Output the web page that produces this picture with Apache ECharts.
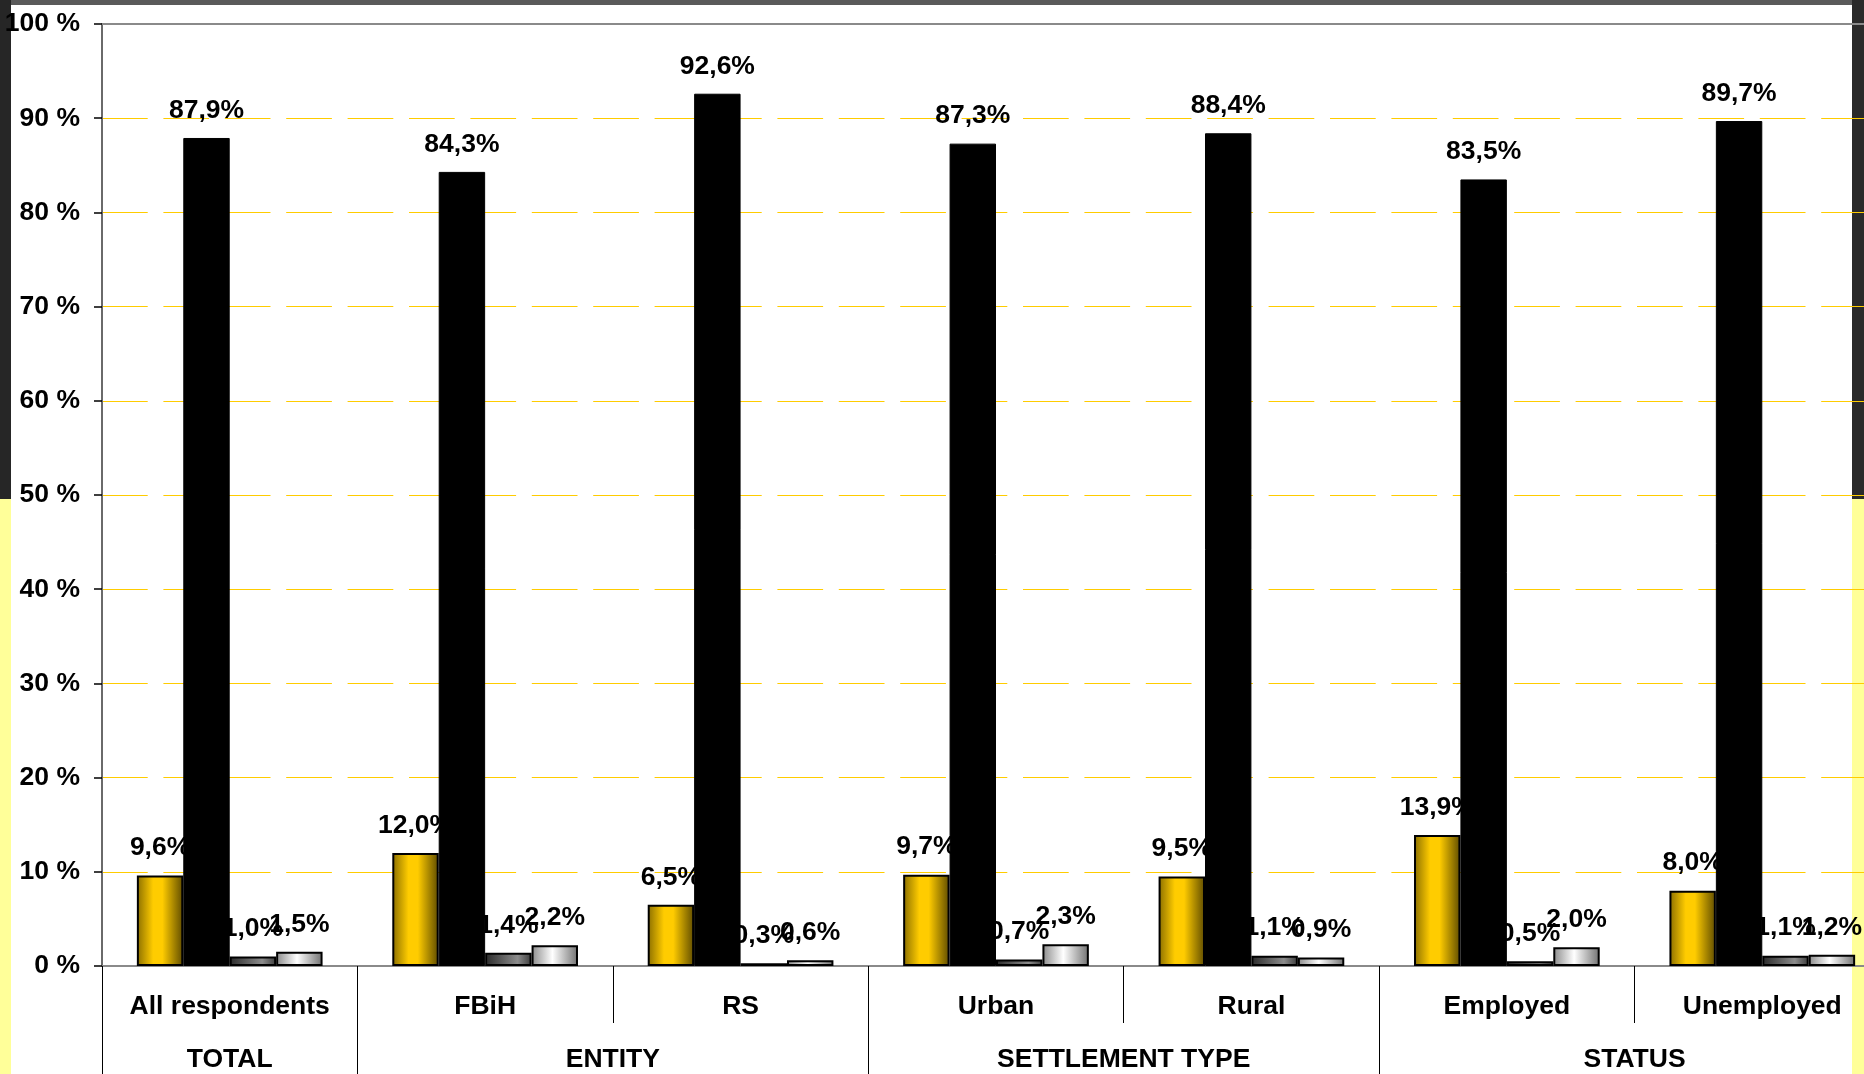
<!DOCTYPE html>
<html>
<head>
<meta charset="utf-8">
<script src="https://cdn.jsdelivr.net/npm/echarts@6/dist/echarts.min.js"></script>
<style>
html,body{margin:0;padding:0;background:#ffffff;}
#chart{width:1864px;height:1074px;}
</style>
</head>
<body>
<div id="chart"></div>
<script>
// ---- data ----
const categories = ['All respondents', 'FBiH', 'RS', 'Urban', 'Rural', 'Employed', 'Unemployed'];
const groupNames = ['TOTAL', 'ENTITY', 'SETTLEMENT TYPE', 'STATUS'];
const groupSpans = [1, 2, 2, 2];
const seriesA = [9.6, 12.0, 6.5, 9.7, 9.5, 13.9, 8.0];      // gold
const seriesB = [87.9, 84.3, 92.6, 87.3, 88.4, 83.5, 89.7]; // black
const seriesC = [1.0, 1.4, 0.3, 0.7, 1.1, 0.5, 1.1];        // dark grey
const seriesD = [1.5, 2.2, 0.6, 2.3, 0.9, 2.0, 1.2];        // light grey
const yMin = 0, yMax = 100, yStep = 10;

// derived group positions
const groupStarts = [];
const groupCenterMap = {};
let acc = 0;
groupSpans.forEach((s, i) => {
  groupStarts.push(acc);
  groupCenterMap[(acc + s / 2).toFixed(1)] = groupNames[i];
  acc += s;
});

const FONT = 'Liberation Sans, Arial, sans-serif';
const FS = 26.5;
const fmtPct = v => v.toFixed(1).replace('.', ',') + '%';

function hGrad(stops) {
  return new echarts.graphic.LinearGradient(0, 0, 1, 0,
    stops.map(s => ({offset: s[0], color: s[1]})));
}

const labelStyle = {
  show: true, position: 'top', distance: 14,
  color: '#000', fontFamily: FONT, fontWeight: 'bold', fontSize: FS,
  formatter: p => fmtPct(p.value)
};

const chart = echarts.init(document.getElementById('chart'), null, {renderer: 'canvas'});
chart.setOption({
  animation: false,
  backgroundColor: '#ffffff',
  graphic: [
    {type: 'rect', z: -100, silent: true, shape: {x: 0, y: 0, width: 11, height: 499}, style: {fill: '#262626'}},
    {type: 'rect', z: -100, silent: true, shape: {x: 0, y: 499, width: 11, height: 575}, style: {fill: '#ffff99'}},
    {type: 'rect', z: -100, silent: true, shape: {x: 1852, y: 0, width: 12, height: 499}, style: {fill: '#2a2a2a'}},
    {type: 'rect', z: -100, silent: true, shape: {x: 1852, y: 499, width: 12, height: 575}, style: {fill: '#ffff99'}},
    {type: 'rect', z: -100, silent: true, shape: {x: 11, y: 0, width: 1841, height: 5}, style: {fill: '#5a5a5a'}}
  ],
  grid: {left: 102, width: 1788, top: 24, bottom: 108, containLabel: false, outerBoundsMode: 'none'},
  xAxis: [
    {
      type: 'category', data: categories, position: 'bottom',
      axisLine: {show: true, onZero: false, lineStyle: {color: '#8a8a8a', width: 2}},
      axisTick: {show: true, interval: 0, length: 57, lineStyle: {color: '#000', width: 1}},
      axisLabel: {interval: 0, margin: 27, color: '#000', fontFamily: FONT, fontWeight: 'bold', fontSize: FS},
      splitLine: {show: false}
    },
    {
      type: 'category', data: categories, position: 'bottom',
      axisLine: {show: false, onZero: false},
      axisTick: {show: true, length: 110, interval: (idx) => groupStarts.indexOf(idx) >= 0,
        lineStyle: {color: '#000', width: 1}},
      axisLabel: {show: false},
      splitLine: {show: false}
    },
    {
      type: 'value', position: 'bottom', min: 0, max: categories.length, interval: 0.5,
      axisLine: {show: false, onZero: false},
      axisTick: {show: false},
      splitLine: {show: false},
      axisLabel: {
        margin: 80, color: '#000', fontFamily: FONT, fontWeight: 'bold', fontSize: FS,
        showMinLabel: true, showMaxLabel: true,
        formatter: v => groupCenterMap[Number(v).toFixed(1)] || ''
      }
    },
    {
      type: 'category', data: categories, position: 'top',
      axisLine: {show: true, onZero: false, lineStyle: {color: '#8a8a8a', width: 2}},
      axisTick: {show: false}, axisLabel: {show: false}, splitLine: {show: false}
    }
  ],
  yAxis: {
    type: 'value', min: yMin, max: yMax, interval: yStep,
    axisLine: {show: true, onZero: false, lineStyle: {color: '#6a6a6a', width: 2}},
    axisTick: {show: true, length: 8, lineStyle: {color: '#000', width: 1.5}},
    axisLabel: {margin: 22, color: '#000', fontFamily: FONT, fontWeight: 'bold', fontSize: FS,
      formatter: v => v + ' %'},
    splitLine: {show: true, lineStyle: {color: '#ffcc00', width: 1.2, type: [45.7, 15.7]}}
  },
  series: [
    {
      name: 'A', type: 'bar', data: seriesA, xAxisIndex: 0, yAxisIndex: 0, z: 2,
      barGap: '0%', barCategoryGap: '27.3%',
      itemStyle: {color: hGrad([[0, '#8a6e00'], [0.35, '#ffcc00'], [0.55, '#ffcc00'], [1, '#5e4b00']]),
        borderColor: '#000', borderWidth: 2},
      label: labelStyle
    },
    {
      name: 'B', type: 'bar', data: seriesB, xAxisIndex: 0, yAxisIndex: 0, z: 4,
      barGap: '0%', barCategoryGap: '27.3%',
      itemStyle: {color: '#000000', borderColor: '#000', borderWidth: 1},
      label: labelStyle
    },
    {
      name: 'C', type: 'bar', data: seriesC, xAxisIndex: 0, yAxisIndex: 0, z: 2,
      barGap: '0%', barCategoryGap: '27.3%',
      itemStyle: {color: hGrad([[0, '#2a2a2a'], [0.7, '#8c8c8c'], [1, '#3c3c3c']]),
        borderColor: '#000', borderWidth: 2},
      label: labelStyle
    },
    {
      name: 'D', type: 'bar', data: seriesD, xAxisIndex: 0, yAxisIndex: 0, z: 3,
      barGap: '0%', barCategoryGap: '27.3%',
      itemStyle: {color: hGrad([[0, '#8a8a8a'], [0.45, '#ffffff'], [1, '#707070']]),
        borderColor: '#000', borderWidth: 2},
      label: labelStyle
    }
  ]
});
</script>
</body>
</html>
